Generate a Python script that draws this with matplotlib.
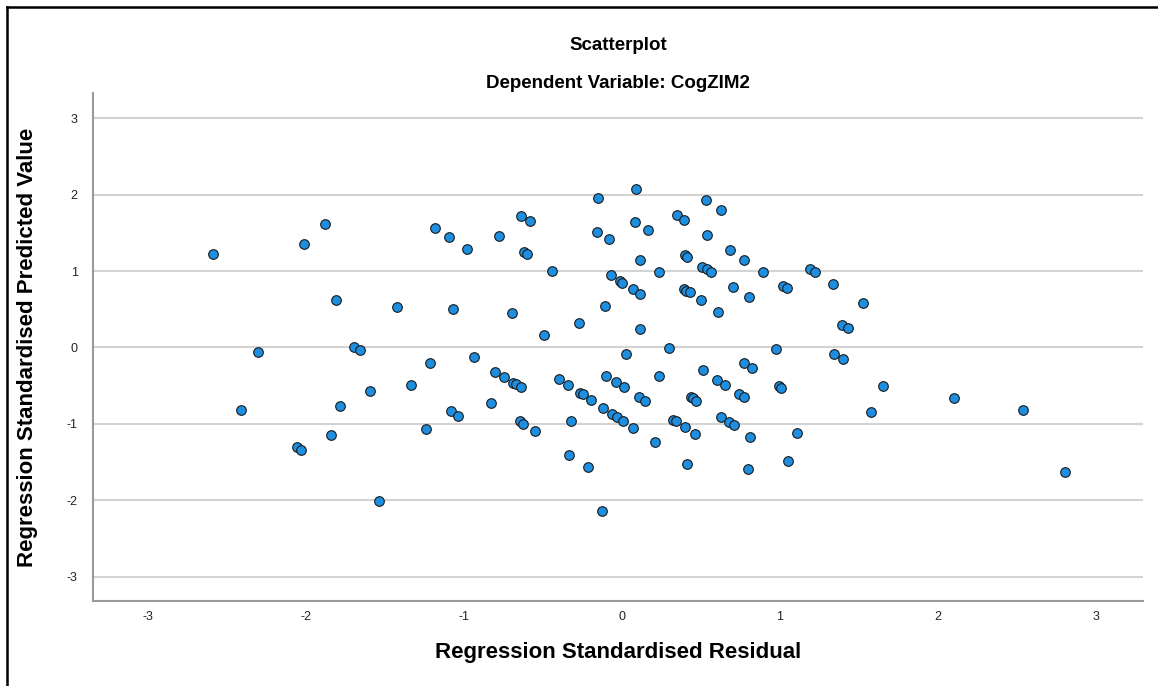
import matplotlib.pyplot as plt
from matplotlib.lines import Line2D

plt.rcParams['font.family'] = ['Liberation Sans', 'DejaVu Sans']
plt.rcParams['axes.unicode_minus'] = False

# standardised residuals (x) and standardised predicted values (y)
residual = [
    -2.589, -2.015, -1.878, -1.810, -2.306, -1.696, -1.658, -1.599, -1.783, -2.413,
    -1.842, -2.057, -2.032, -1.542,
    -0.152, -1.185, -1.095, -0.983, -0.777, -0.639, -0.584, -0.622, -0.603, -0.443,
    -0.158, -0.084, -0.068, -0.016, 0.000, -1.422, -1.072, -0.696, -0.106, -0.274,
    -0.492,
    -1.335, -1.215, -0.937, -1.241, -1.084, -1.036, -0.827, -0.804, -0.749, -0.688,
    -0.671, -0.641, -0.646, -0.625, -0.553, -0.397, -0.340, -0.266, -0.249, -0.198,
    -0.325, -0.335, -0.213, -0.125, -0.118, -0.061, -0.030, 0.004, 0.068, -0.101,
    -0.038, 0.013, 0.022, 0.109, 0.147, 0.209,
    0.089, 0.530, 0.627, 0.346, 0.392, 0.082, 0.163, 0.536, 0.684, 0.772,
    0.399, 0.411, 0.116, 0.509, 0.536, 0.561, 0.232, 0.894, 1.190, 1.222,
    0.068, 0.114, 0.392, 0.405, 0.430, 0.701, 0.801, 1.017, 1.046, 1.337,
    0.500, 0.609, 0.116, 1.523, 1.391, 1.432,
    0.297, 0.973, 1.344, 1.401, 0.234, 0.513, 0.775, 0.824, 0.604, 0.652,
    0.994, 1.006, 0.439, 0.451, 0.468, 0.741, 0.775, 0.321, 0.340, 0.397,
    0.464, 0.627, 0.677, 0.709, 0.812, 1.109, 0.413, 0.796, 1.053,
    1.650, 1.574, 2.099, 2.536, 2.806,
]
predicted = [
    1.227, 1.350, 1.612, 0.620, -0.062, 0.008, -0.039, -0.573, -0.769, -0.818,
    -1.145, -1.307, -1.337, -2.014,
    1.961, 1.567, 1.446, 1.288, 1.459, 1.721, 1.651, 1.245, 1.227, 1.000,
    1.515, 1.415, 0.944, 0.875, 0.849, 0.532, 0.506, 0.446, 0.541, 0.322,
    0.161,
    -0.485, -0.202, -0.123, -1.067, -0.831, -0.900, -0.726, -0.315, -0.380, -0.464,
    -0.481, -0.524, -0.966, -0.996, -1.097, -0.415, -0.485, -0.590, -0.608, -0.691,
    -0.966, -1.402, -1.565, -2.142, -0.792, -0.865, -0.917, -0.957, -1.054, -0.367,
    -0.455, -0.516, -0.084, -0.647, -0.704, -1.237,
    2.079, 1.934, 1.803, 1.734, 1.672, 1.642, 1.533, 1.472, 1.271, 1.148,
    1.210, 1.190, 1.144, 1.056, 1.022, 0.991, 0.987, 0.983, 1.026, 0.991,
    0.760, 0.699, 0.764, 0.744, 0.721, 0.794, 0.657, 0.807, 0.773, 0.830,
    0.616, 0.467, 0.240, 0.577, 0.301, 0.249,
    -0.005, -0.026, -0.084, -0.157, -0.376, -0.301, -0.208, -0.271, -0.426, -0.490,
    -0.507, -0.527, -0.647, -0.668, -0.695, -0.615, -0.654, -0.949, -0.966, -1.048,
    -1.136, -0.910, -0.975, -1.018, -1.166, -1.114, -1.520, -1.591, -1.490,
    -0.503, -0.848, -0.664, -0.813, -1.630,
]
ticks = [-3, -2, -1, 0, 1, 2, 3]

fig = plt.figure(figsize=(11.58, 6.86), dpi=100)
ax = fig.add_axes([0.0803, 0.124, 0.907, 0.740])

ax.scatter(residual, predicted, s=48, color='#1e8fe0', edgecolor='#1a1a1a',
           linewidth=0.8, zorder=3)

ax.set_xlim(-3.35, 3.30)
ax.set_ylim(-3.32, 3.33)
ax.set_xticks(ticks)
ax.set_yticks(ticks)
ax.tick_params(length=0, labelsize=9, colors='#222222')
ax.tick_params(axis='y', pad=11)
ax.tick_params(axis='x', pad=7)
for y in ticks:
    ax.axhline(y, color='#d3d3d3', linewidth=1.5, zorder=1)

for side in ['top', 'right']:
    ax.spines[side].set_visible(False)
for side in ['left', 'bottom']:
    ax.spines[side].set_color('#9a9a9a')
    ax.spines[side].set_linewidth(1.5)

ax.set_xlabel('Regression Standardised Residual', fontsize=16,
              fontweight='bold', labelpad=14)
ax.set_ylabel('Regression Standardised Predicted Value', fontsize=16,
              fontweight='bold', labelpad=21)

cx = 0.0803 + 0.907 / 2
fig.text(cx, 1 - 45 / 686, 'Scatterplot', ha='center', va='center',
         fontsize=13.5, fontweight='bold')
fig.text(cx, 1 - 83 / 686, 'Dependent Variable: CogZIM2', ha='center',
         va='center', fontsize=13.5, fontweight='bold')

# outer frame (left and top edges)
w, h = 1158, 686
frame = [
    ([7 / w, 7 / w], [0, 1 - 7 / h]),
    ([7 / w, 1], [1 - 7 / h, 1 - 7 / h]),
]
for xs, ys in frame:
    fig.add_artist(Line2D(xs, ys, color='black', linewidth=1.8,
                          transform=fig.transFigure))

fig.savefig('out.png', dpi=100, facecolor='white')
